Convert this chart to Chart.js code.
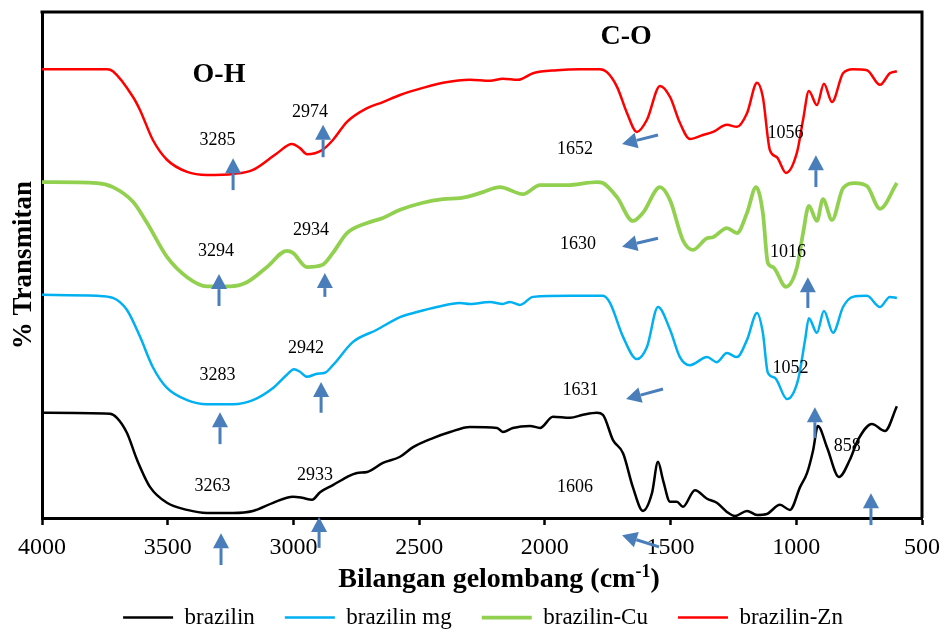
<!DOCTYPE html>
<html>
<head>
<meta charset="utf-8">
<script src="https://cdn.jsdelivr.net/npm/chart.js@4"></script>
<style>
  html, body { margin: 0; padding: 0; background: #fff; }
</style>
</head>
<body>
<canvas id="ftir" width="944" height="630"></canvas>
<script>
// wavenumber (cm-1) and % transmittance (offset, arbitrary)
const brazilinWn = [4000,3730,3702,3662,3622,3570,3503,3423,3344,3240,3161,3081,3002,2966,2926,2894,2843,2787,2747,2707,2644,2576,2524,2445,2377,2298,2190,2167,2127,2059,2019,1968,1900,1848,1793,1769,1729,1689,1650,1610,1574,1550,1530,1502,1475,1451,1403,1355,1316,1276,1244,1196,1156,1117,1065,1025,985,957,933,914,878,830,787,755,699,647,600];
const brazilinT = [20.8,20.6,19.8,16.8,11.5,6.1,3.0,1.6,1.0,1.0,1.4,3.0,4.2,4.0,3.6,5.1,6.5,8.1,8.9,9.1,10.9,12.1,14.0,15.8,17.0,18.0,17.8,17.0,17.8,18.2,17.8,20.0,19.8,20.4,20.8,20.4,15.4,12.8,6.1,1.4,4.9,11.1,7.5,3.2,3.2,2.2,5.5,3.8,3.0,1.2,0.4,1.4,0.6,0.8,2.6,1.6,6.1,8.9,13.4,18.2,14.0,8.1,11.5,15.4,18.6,17.2,22.1];

const mgWn = [4000,3781,3718,3662,3610,3559,3503,3423,3344,3240,3161,3081,3026,2998,2974,2946,2906,2875,2843,2763,2668,2576,2509,2429,2338,2298,2218,2167,2139,2099,2047,1900,1769,1741,1689,1634,1594,1550,1502,1463,1423,1355,1316,1276,1236,1196,1156,1133,1113,1085,1037,993,965,950,918,890,854,814,775,719,667,628,600];
const mgT = [44.1,43.9,43.5,41.1,35.8,29.8,25.7,23.3,22.5,22.5,23.3,25.7,28.3,29.4,28.9,27.9,28.5,28.7,30.2,34.8,37.2,39.7,40.7,41.7,42.5,42.3,42.7,42.3,42.7,42.1,43.7,43.9,43.9,42.5,35.8,31.4,33.8,41.7,37.2,31.8,30.2,31.8,30.8,32.6,31.8,35.2,40.5,36.6,28.7,27.7,23.5,27.3,35.2,39.5,36.6,40.9,36.6,41.7,43.7,43.9,41.7,43.7,43.5];

const cuWn = [4000,3781,3718,3638,3582,3503,3423,3344,3252,3185,3105,3026,3002,2946,2886,2843,2787,2707,2644,2576,2485,2405,2338,2298,2246,2179,2087,2019,1912,1793,1769,1713,1650,1610,1542,1502,1451,1411,1355,1331,1276,1236,1196,1160,1133,1113,1093,1041,997,973,950,918,894,858,814,767,719,667,600];
const cuT = [66.4,66.2,65.4,62.5,58.3,51.6,47.6,45.8,45.8,46.6,49.6,52.8,52.4,49.6,50.0,52.4,56.3,58.3,59.3,60.9,62.3,63.0,63.2,63.6,64.4,65.4,64.0,65.8,65.8,66.4,66.2,63.4,58.7,60.3,65.4,62.8,54.9,53.0,55.3,55.5,57.3,56.3,60.3,65.4,60.3,50.4,49.6,45.7,49.6,56.3,61.7,58.7,63.0,58.9,65.2,66.2,65.6,61.1,66.2];

const znWn = [4000,3741,3718,3638,3610,3559,3503,3423,3344,3240,3161,3065,3006,2974,2946,2886,2843,2787,2707,2644,2576,2485,2405,2298,2218,2167,2107,2047,1952,1860,1781,1753,1713,1673,1634,1594,1542,1502,1463,1423,1371,1331,1276,1236,1196,1156,1133,1105,1077,1041,997,973,950,918,890,858,814,775,719,667,628,600];
const znT = [88.7,88.7,88.3,83.2,80.6,74.7,70.8,68.4,67.8,68.0,68.8,72.1,73.9,73.1,71.9,72.7,74.7,78.3,81.0,82.2,83.6,85.0,86.0,86.6,86.4,86.8,86.6,87.9,88.5,88.7,88.7,88.1,85.2,80.0,76.3,78.7,85.4,83.2,78.1,74.9,75.7,76.3,77.7,77.3,80.0,86.0,83.2,72.7,71.3,68.2,72.3,78.7,84.4,81.6,85.8,82.2,87.9,88.7,88.5,85.6,87.9,88.3];

const seriesNames = ['brazilin', 'brazilin mg', 'brazilin-Cu', 'brazilin-Zn'];
const xTicks = [4000, 3500, 3000, 2500, 2000, 1500, 1000, 500];

// band labels: [text, wavenumber, transmittance]
const groupLabels = [['O-H', 3296, 87.5], ['C-O', 1677, 95.1]];
const peakLabels = [
  ['3285', 3302, 74.7], ['2974', 2934, 80.2],
  ['3294', 3308, 52.8], ['2934', 2930, 56.9],
  ['3283', 3302, 28.3], ['2942', 2950, 33.6],
  ['3263', 3322, 6.3],  ['2933', 2914, 8.5],
  ['1652', 1880, 72.9], ['1056', 1043, 76.1],
  ['1630', 1868, 54.0], ['1016', 1033, 52.6],
  ['1631', 1858, 25.3], ['1052', 1023, 29.6],
  ['1606', 1880, 6.1],  ['858', 797, 14.2]
];
// arrows: [fromWn, fromT, toWn, toT]
const peakArrows = [
  [3240, 64.8, 3240, 71.1], [2882, 71.3, 2882, 77.7],
  [3296, 41.9, 3296, 48.2], [2875, 43.7, 2875, 48.4],
  [3292, 14.6, 3292, 20.9], [2890, 20.8, 2890, 26.9],
  [3288, -9.3, 3288, -3.0], [2898, -5.9, 2898, 0.2],
  [922, 65.4, 922, 71.7], [954, 41.5, 954, 47.6],
  [926, 15.8, 926, 21.9], [703, -1.4, 703, 4.9],
  [1550, 75.7, 1693, 73.9], [1550, 55.3, 1693, 53.6],
  [1530, 25.5, 1677, 23.5], [1546, -5.7, 1693, -3.4]
];

const serif = "'Liberation Serif', 'Times New Roman', serif";
const arrowBlue = '#4a7ebb';

function toPoints(wn, t) {
  return wn.map((w, i) => ({ x: w, y: t[i] }));
}

function line(label, wn, t, color, width) {
  return {
    label,
    data: toPoints(wn, t),
    borderColor: color,
    backgroundColor: color,
    borderWidth: width,
    pointRadius: 0,
    pointStyle: 'line',
    cubicInterpolationMode: 'monotone'
  };
}

function drawArrow(ctx, x0, y0, x1, y1) {
  const ang = Math.atan2(y1 - y0, x1 - x0);
  const head = 15, half = 8;
  const bx = x1 - Math.cos(ang) * head, by = y1 - Math.sin(ang) * head;
  ctx.beginPath();
  ctx.moveTo(x0, y0);
  ctx.lineTo(bx, by);
  ctx.lineWidth = 3;
  ctx.stroke();
  ctx.beginPath();
  ctx.moveTo(x1, y1);
  ctx.lineTo(bx + Math.sin(ang) * half, by - Math.cos(ang) * half);
  ctx.lineTo(bx - Math.sin(ang) * half, by + Math.cos(ang) * half);
  ctx.closePath();
  ctx.fill();
}

const annotate = {
  id: 'annotate',
  afterLayout(chart) {
    // nudge the legend row to where the original has it
    const lg = chart.legend;
    if (lg) { lg.top += 9; lg.bottom += 9; lg.left += 22; lg.right += 22; }
  },
  afterDatasetsDraw(chart) {
    const { ctx, chartArea: a, scales: { x, y } } = chart;
    ctx.save();

    // closing frame (top + right)
    ctx.strokeStyle = '#000';
    ctx.lineWidth = 3;
    ctx.beginPath();
    ctx.moveTo(a.left - 1.5, a.top);
    ctx.lineTo(a.right, a.top);
    ctx.lineTo(a.right, a.bottom);
    ctx.stroke();

    ctx.fillStyle = '#000';
    ctx.textAlign = 'center';
    ctx.textBaseline = 'middle';
    ctx.font = 'bold 28px ' + serif;
    groupLabels.forEach(([txt, w, t]) => ctx.fillText(txt, x.getPixelForValue(w), y.getPixelForValue(t)));
    ctx.font = '18px ' + serif;
    peakLabels.forEach(([txt, w, t]) => ctx.fillText(txt, x.getPixelForValue(w), y.getPixelForValue(t)));

    ctx.strokeStyle = arrowBlue;
    ctx.fillStyle = arrowBlue;
    peakArrows.forEach(([w0, t0, w1, t1]) => {
      drawArrow(ctx, x.getPixelForValue(w0), y.getPixelForValue(t0), x.getPixelForValue(w1), y.getPixelForValue(t1));
    });

    // x axis title with superscript
    const base = a.bottom + 69;
    const cx = (a.left + a.right) / 2 + 17;
    const p1 = 'Bilangan gelombang (cm', sup = '-1', p2 = ')';
    ctx.textAlign = 'left';
    ctx.textBaseline = 'alphabetic';
    ctx.fillStyle = '#000';
    ctx.font = 'bold 28px ' + serif;
    const w1 = ctx.measureText(p1).width, w3 = ctx.measureText(p2).width;
    ctx.font = 'bold 18px ' + serif;
    const w2 = ctx.measureText(sup).width;
    const sx = cx - (w1 + w2 + w3) / 2;
    ctx.font = 'bold 28px ' + serif;
    ctx.fillText(p1, sx, base);
    ctx.font = 'bold 18px ' + serif;
    ctx.fillText(sup, sx + w1, base - 10);
    ctx.font = 'bold 28px ' + serif;
    ctx.fillText(p2, sx + w1 + w2, base);

    ctx.restore();
  }
};

new Chart(document.getElementById('ftir'), {
  type: 'line',
  data: {
    datasets: [
      line(seriesNames[0], brazilinWn, brazilinT, '#000000', 2.5),
      line(seriesNames[1], mgWn, mgT, '#00b0f0', 2.5),
      line(seriesNames[2], cuWn, cuT, '#92d050', 3.75),
      line(seriesNames[3], znWn, znT, '#ff0000', 2.5)
    ]
  },
  options: {
    responsive: false,
    animation: false,
    layout: { padding: { top: 12, right: 22, left: 0, bottom: 0 } },
    plugins: {
      legend: {
        position: 'bottom',
        labels: {
          usePointStyle: true,
          pointStyleWidth: 50,
          boxHeight: 3,
          padding: 30,
          color: '#000',
          font: { family: serif, size: 23 }
        }
      },
      tooltip: { enabled: false }
    },
    scales: {
      x: {
        type: 'linear',
        reverse: true,
        min: 500,
        max: 4000,
        afterBuildTicks(scale) { scale.ticks = xTicks.map(v => ({ value: v })); },
        afterFit(scale) {
          scale.height = 49;
          scale.paddingLeft = 0;
          scale.paddingRight = 0;
        },
        grid: { drawOnChartArea: false, drawTicks: true, tickLength: 7, tickWidth: 2.5, tickColor: '#000' },
        border: { color: '#000', width: 3 },
        ticks: {
          color: '#000',
          padding: 8,
          maxRotation: 0,
          font: { family: serif, size: 24 },
          callback: v => String(v)
        }
      },
      y: {
        min: 0,
        max: 100,
        afterFit(scale) { scale.width = 42; },
        grid: { display: false },
        border: { color: '#000', width: 3 },
        ticks: { display: false },
        title: {
          display: true,
          text: '% Transmitan',
          color: '#000',
          padding: { top: 8, bottom: 0 },
          font: { family: serif, size: 27, weight: 'bold' }
        }
      }
    }
  },
  plugins: [annotate]
});
</script>
</body>
</html>
